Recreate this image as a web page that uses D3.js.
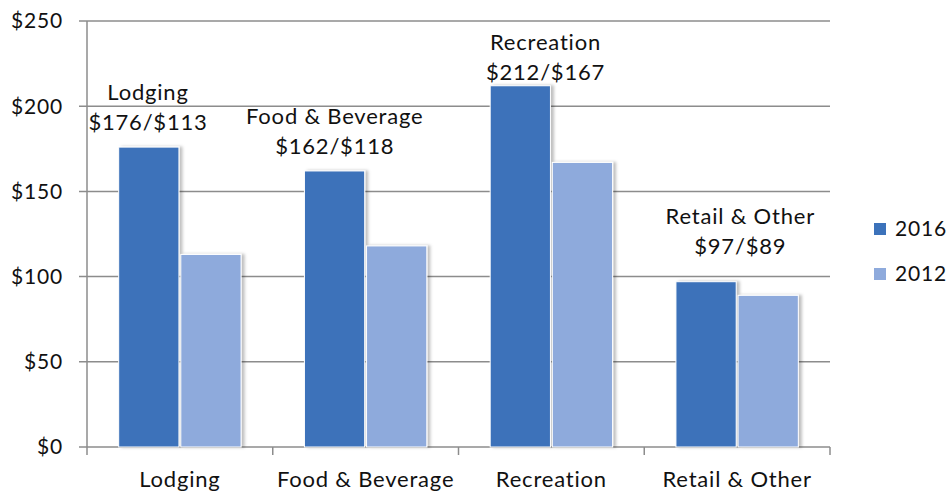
<!DOCTYPE html>
<html>
<head>
<meta charset="utf-8">
<script src="https://cdn.jsdelivr.net/npm/d3@7"></script>
<style>
  body { margin: 0; background: #fff; }
  text { font-family: Lato, "Open Sans", sans-serif; fill: #111; letter-spacing: 0.8px; }
</style>
</head>
<body>
<div id="chart"></div>
<script>
// spending per category, 2016 vs 2012
const categories = ['Lodging', 'Food & Beverage', 'Recreation', 'Retail & Other'];
const series = ['2016', '2012'];
const values2016 = [176, 162, 212, 97];
const values2012 = [113, 118, 167, 89];
const yTicks = [0, 50, 100, 150, 200, 250];

// where the two-line annotation sits: [dx from band start, gap above 2016 bar]
const labelOffsets = [[61, 17], [62, 17], [87, 6], [96, 28]];

const width = 950, height = 493;
const margin = {top: 21, right: 120, bottom: 46, left: 87};
const colors = {'2016': '#3c72ba', '2012': '#8eaadc'};
const gridColor = '#8c8c8c';

const svg = d3.select('#chart').append('svg')
  .attr('width', width)
  .attr('height', height);

const defs = svg.append('defs');
const filt = defs.append('filter').attr('id', 'shadow')
  .attr('x', '-20%').attr('y', '-5%').attr('width', '140%').attr('height', '110%');
filt.append('feDropShadow')
  .attr('dx', 3).attr('dy', 0).attr('stdDeviation', 1.5)
  .attr('flood-color', '#000').attr('flood-opacity', 0.25);

const x = d3.scaleBand()
  .domain(categories)
  .range([margin.left, width - margin.right]);

const x1 = d3.scaleBand()
  .domain(series)
  .range([0, x.bandwidth()])
  .paddingInner(0.03)
  .paddingOuter(0.51);

const y = d3.scaleLinear()
  .domain([0, 250])
  .range([height - margin.bottom, margin.top]);

// gridlines
svg.append('g')
  .selectAll('line')
  .data(yTicks)
  .join('line')
  .attr('x1', margin.left - 8)
  .attr('x2', width - margin.right)
  .attr('y1', d => y(d))
  .attr('y2', d => y(d))
  .attr('stroke', gridColor)
  .attr('stroke-width', 1.5);

// y axis labels
svg.append('g')
  .selectAll('text')
  .data(yTicks)
  .join('text')
  .attr('x', 63)
  .attr('y', d => y(d))
  .attr('dy', '0.35em')
  .attr('text-anchor', 'end')
  .attr('font-size', 21)
  .text(d => '$' + d);

// bars
const rows = categories.map((c, i) => ({cat: c, vals: [
  {s: '2016', v: values2016[i]}, {s: '2012', v: values2012[i]}]}));

const groups = svg.append('g')
  .selectAll('g')
  .data(rows)
  .join('g')
  .attr('transform', d => `translate(${x(d.cat)},0)`);

groups.selectAll('rect')
  .data(d => d.vals)
  .join('rect')
  .attr('x', d => x1(d.s))
  .attr('width', x1.bandwidth())
  .attr('y', d => y(d.v))
  .attr('height', d => y(0) - y(d.v))
  .attr('fill', d => colors[d.s])
  .attr('stroke', '#fff')
  .attr('stroke-width', 1)
  .attr('filter', 'url(#shadow)');

// axes lines
svg.append('line')
  .attr('x1', margin.left).attr('x2', margin.left)
  .attr('y1', y(250)).attr('y2', y(0))
  .attr('stroke', gridColor).attr('stroke-width', 1.5);

const xTickPos = categories.map(c => x(c)).concat([x.range()[1]]);
svg.append('g')
  .selectAll('line')
  .data(xTickPos)
  .join('line')
  .attr('x1', d => d).attr('x2', d => d)
  .attr('y1', y(0)).attr('y2', y(0) + 8)
  .attr('stroke', gridColor).attr('stroke-width', 1.5);

// category labels
svg.append('g')
  .selectAll('text')
  .data(categories)
  .join('text')
  .attr('x', d => x(d) + x.bandwidth() / 2)
  .attr('y', 487)
  .attr('text-anchor', 'middle')
  .attr('font-size', 22)
  .text(d => d);

// annotations
const ann = svg.append('g')
  .selectAll('text')
  .data(rows)
  .join('text')
  .attr('text-anchor', 'middle')
  .attr('font-size', 22)
  .attr('transform', (d, i) => `translate(${x(d.cat) + labelOffsets[i][0]},${y(values2016[i]) - labelOffsets[i][1]})`);
ann.append('tspan').attr('x', 0).attr('y', -30).text(d => d.cat);
ann.append('tspan').attr('x', 0).attr('y', 0)
  .text((d, i) => `$${values2016[i]}/$${values2012[i]}`);

// legend
const legend = svg.append('g')
  .selectAll('g')
  .data(series)
  .join('g')
  .attr('transform', (d, i) => `translate(874,${229 + i * 45})`);
legend.append('rect')
  .attr('x', 0).attr('y', -6)
  .attr('width', 12).attr('height', 12)
  .attr('fill', d => colors[d]);
legend.append('text')
  .attr('x', 21).attr('y', 0).attr('dy', '0.35em')
  .attr('font-size', 21)
  .text(d => d);
</script>
</body>
</html>
